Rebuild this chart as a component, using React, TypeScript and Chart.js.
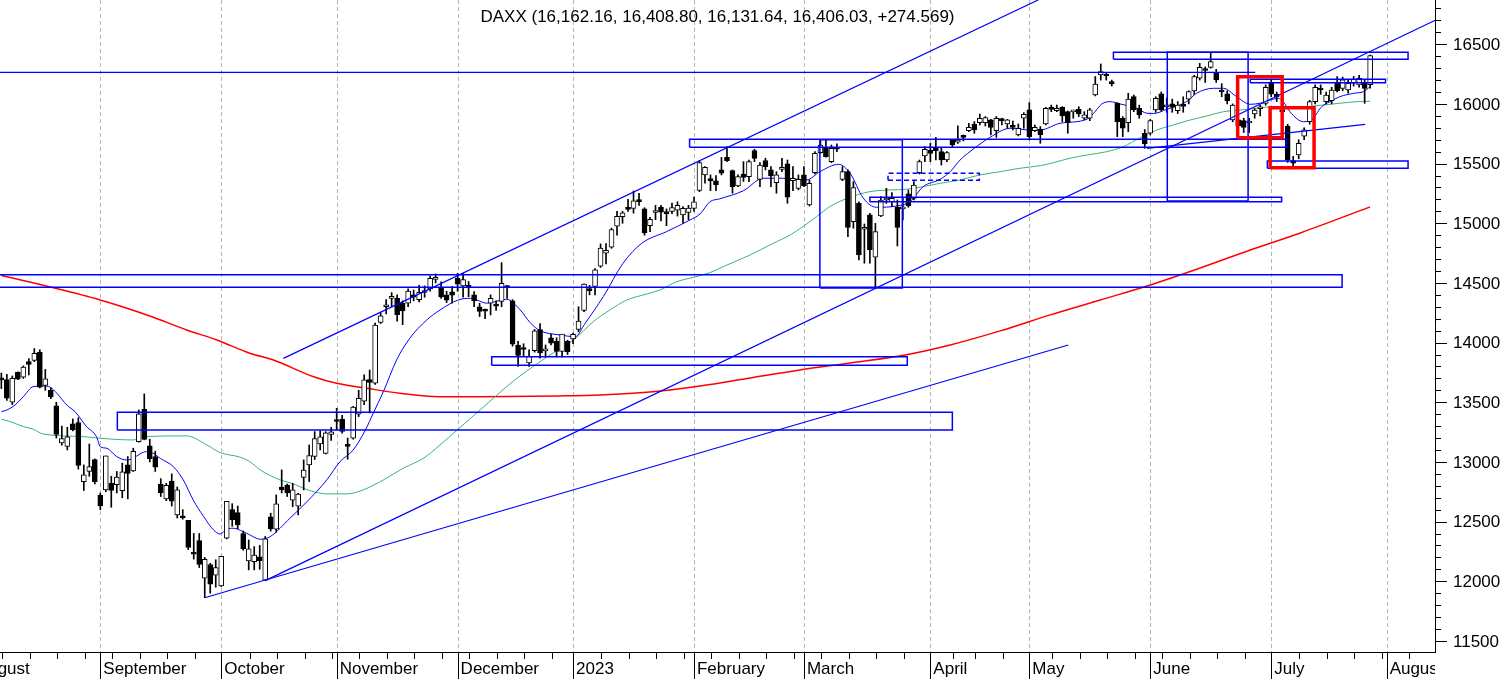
import React, { useEffect, useRef } from 'react';
import { Chart, registerables } from 'chart.js';

Chart.register(...registerables);

const TITLE = 'DAXX (16,162.16, 16,408.80, 16,131.64, 16,406.03, +274.569)';
const FONT = "'Liberation Sans', Arial, Helvetica, sans-serif";
const FIRST_DATE = '2022-08-08';
const HOLIDAYS = ['2022-12-26', '2023-04-07', '2023-04-10', '2023-05-01'];
const MONTH_NAMES = ['January', 'February', 'March', 'April', 'May', 'June', 'July', 'August', 'September', 'October', 'November', 'December'];
const Y_LABELS = [11500, 12000, 12500, 13000, 13500, 14000, 14500, 15000, 15500, 16000, 16500];
const X_MIN = -0.245;
const X_MAX = 260.8;
const Y_MIN = 11407;
const Y_MAX = 16871;

const opens = [
  13690, 13690, 13500, 13750, 13710, 13840, 13850, 13920, 13640, 13600,
  13470, 13160, 13130, 13320, 13330, 12835, 12920, 13020, 12720, 12765,
  12820, 12810, 12760, 12975, 12925, 13170, 13440, 13135, 13045, 12815,
  12690, 12840, 12556, 12545, 12510, 12240, 12340, 12025, 12140, 12050,
  11961, 12360, 12600, 12575, 12400, 12170, 12165, 12205, 12010, 12540,
  12436, 12790, 12805, 12680, 12630, 12870, 12975, 13045, 13150, 13072,
  13230, 13340, 13357, 13140, 13200, 13400, 13510, 13690, 13660, 14170,
  14300, 14370, 14370, 14330, 14330, 14400, 14360, 14420, 14450, 14530,
  14455, 14400, 14425, 14540, 14475, 14480, 14400, 14300, 14270, 14330,
  14320, 14345, 14470, 14350, 13980, 13955, 13830, 13933, 14110, 13930,
  14040, 14010, 13925, 14010, 14030, 14110, 14270, 14440, 14470, 14640,
  14750, 14800, 14975, 15055, 15131, 15125, 15190, 15120, 14980, 15090,
  15135, 15090, 15100, 15110, 15070, 15090, 15125, 15275, 15405, 15360,
  15355, 15447, 15553, 15441, 15313, 15413, 15391, 15609, 15368, 15525,
  15447, 15341, 15452, 15497, 15357, 15293, 15405, 15153, 15424, 15592,
  15628, 15516, 15625, 15368, 15433, 15014, 15167, 14950, 15070, 14715,
  15061, 15195, 15181, 15134, 15120, 15246, 15209, 15424, 15564, 15614,
  15628, 15600, 15530, 15698, 15680, 15722, 15776, 15832, 15843, 15843,
  15866, 15776, 15866, 15832, 15810, 15740, 15880, 15950, 15776, 15787,
  15832, 15958, 15944, 15972, 15935, 15933, 15955, 15880, 15880, 16075,
  16243, 16240, 16187, 16005, 15880, 15843, 16061, 15963, 15754, 15754,
  15950, 16084, 15975, 16000, 15944, 15995, 16039, 16110, 16215, 16295,
  16307, 16262, 16110, 16084, 15866, 15866, 15860, 15840, 15916, 15960,
  16005, 16178, 16081, 15950, 15815, 15525, 15572, 15730, 15852, 16019,
  16120, 16019, 16028, 16178, 16131, 16117, 16173, 16159, 16180, 16162.16,
];

const highs = [
  13745, 13735, 13720, 13755, 13805, 13865, 13950, 13940, 13775, 13620,
  13500, 13300, 13290, 13360, 13370, 12975, 13150, 13025, 12740, 13050,
  12880, 12920, 12990, 13045, 13115, 13435, 13570, 13190, 13090, 12860,
  12820, 12900, 12790, 12600, 12510, 12400, 12400, 12200, 12150, 12180,
  12210, 12670, 12650, 12630, 12420, 12346, 12290, 12300, 12375, 12570,
  12723, 12933, 12815, 12820, 12737, 13017, 13142, 13254, 13262, 13254,
  13290, 13449, 13390, 13200, 13465, 13600, 13730, 13770, 14163, 14250,
  14360, 14419, 14400, 14350, 14450, 14440, 14480, 14475, 14560, 14575,
  14510, 14430, 14470, 14580, 14580, 14512, 14427, 14330, 14280, 14400,
  14350, 14670, 14480, 14360, 14010, 13990, 13940, 14110, 14160, 13980,
  14070, 14040, 14070, 14020, 14080, 14300, 14492, 14480, 14620, 14827,
  14830, 14960, 15100, 15100, 15200, 15270, 15250, 15130, 15050, 15150,
  15150, 15120, 15170, 15180, 15140, 15150, 15220, 15525, 15475, 15405,
  15400, 15552, 15642, 15447, 15405, 15516, 15530, 15620, 15508, 15545,
  15474, 15432, 15545, 15530, 15475, 15405, 15475, 15363, 15600, 15698,
  15698, 15656, 15665, 15475, 15447, 15349, 15180, 14994, 15084, 14999,
  15223, 15293, 15257, 15195, 15209, 15279, 15349, 15530, 15642, 15670,
  15720, 15628, 15600, 15704, 15816, 15740, 15838, 15852, 15916, 15894,
  15871, 15894, 15880, 15871, 15857, 15832, 15927, 16011, 15824, 15810,
  15972, 15991, 15991, 15977, 15941, 15944, 15977, 15935, 15963, 16230,
  16335, 16262, 16200, 16011, 15894, 16089, 16075, 15990, 15785, 15870,
  16060, 16100, 16050, 16040, 16020, 16060, 16110, 16240, 16340, 16310,
  16427, 16290, 16170, 16110, 16000, 15900, 15880, 15880, 15960, 15990,
  16160, 16200, 16100, 15990, 15830, 15560, 15700, 15800, 16030, 16160,
  16160, 16100, 16140, 16230, 16225, 16200, 16230, 16240, 16200, 16408.8,
];

const lows = [
  13615, 13515, 13480, 13690, 13700, 13730, 13840, 13620, 13600, 13530,
  13200, 13140, 13100, 13260, 12940, 12760, 12880, 12815, 12600, 12750,
  12620, 12740, 12700, 12690, 12920, 13165, 13185, 13000, 12920, 12710,
  12675, 12630, 12530, 12520, 12265, 12185, 12115, 11862, 11900, 11950,
  11955, 12355, 12460, 12440, 12260, 12095, 12095, 12100, 12005, 12420,
  12410, 12740, 12710, 12625, 12556, 12765, 12835, 13020, 13100, 13067,
  13180, 13268, 13240, 13022, 13190, 13380, 13480, 13410, 13650, 14160,
  14240, 14300, 14180, 14150, 14300, 14350, 14340, 14380, 14430, 14500,
  14370, 14335, 14330, 14430, 14380, 14385, 14300, 14218, 14200, 14232,
  14270, 14300, 14370, 13970, 13800, 13890, 13800, 13920, 13870, 13880,
  13980, 13880, 13880, 13900, 13990, 14090, 14260, 14400, 14400, 14630,
  14660, 14790, 14900, 15000, 15100, 15085, 15150, 14900, 14930, 15030,
  15020, 14980, 15080, 15060, 15000, 15030, 15100, 15265, 15335, 15273,
  15273, 15405, 15516, 15252, 15307, 15350, 15349, 15516, 15307, 15447,
  15307, 15252, 15432, 15168, 15273, 15280, 15307, 15145, 15413, 15586,
  15553, 15508, 15600, 15357, 14888, 14958, 14692, 14665, 14665, 14458,
  15055, 15167, 15140, 14810, 15028, 15134, 15195, 15413, 15516, 15516,
  15530, 15488, 15516, 15642, 15670, 15690, 15768, 15754, 15824, 15815,
  15740, 15720, 15824, 15796, 15782, 15732, 15796, 15698, 15768, 15670,
  15824, 15935, 15935, 15852, 15754, 15880, 15894, 15866, 15860, 16067,
  16200, 16200, 16150, 15726, 15726, 15768, 15935, 15880, 15628, 15740,
  15930, 15940, 15930, 15930, 15920, 15930, 16000, 16080, 16200, 16180,
  16300, 16180, 16060, 16000, 15850, 15730, 15760, 15760, 15880, 15900,
  15990, 16060, 16020, 15890, 15510, 15456, 15540, 15700, 15830, 16000,
  16080, 16000, 16000, 16100, 16110, 16090, 16150, 16140, 16005, 16131.64,
];

const closes = [
  13687, 13535, 13700, 13694, 13795, 13816, 13910, 13626, 13697, 13544,
  13230, 13195, 13210, 13271, 12971, 12892, 12960, 12835, 12631, 13050,
  12761, 12872, 12916, 12904, 13088, 13402, 13189, 13028, 12956, 12741,
  12803, 12671, 12767, 12531, 12284, 12227, 12140, 12183, 11976, 12114,
  12209, 12670, 12517, 12471, 12273, 12272, 12220, 12172, 12355, 12438,
  12649, 12765, 12741, 12767, 12731, 12931, 13053, 13195, 13211, 13243,
  13253, 13339, 13256, 13130, 13460, 13533, 13688, 13666, 14146, 14224,
  14313, 14379, 14234, 14266, 14431, 14380, 14422, 14428, 14539, 14541,
  14383, 14355, 14397, 14490, 14529, 14460, 14350, 14261, 14264, 14370,
  14306, 14497, 14460, 13986, 13893, 13942, 13885, 14098, 13914, 13940,
  13995, 13925, 14071, 13924, 14069, 14181, 14490, 14436, 14610, 14792,
  14774, 14948, 15058, 15087, 15117, 15187, 15181, 14920, 15033, 15103,
  15093, 15081, 15132, 15150, 15126, 15128, 15180, 15509, 15469, 15357,
  15321, 15419, 15525, 15307, 15391, 15385, 15516, 15544, 15488, 15474,
  15396, 15405, 15469, 15218, 15377, 15368, 15313, 15335, 15586, 15656,
  15558, 15628, 15620, 15433, 14966, 15300, 14734, 14966, 14776, 14930,
  15195, 15201, 15209, 14966, 15134, 15145, 15321, 15516, 15620, 15586,
  15609, 15530, 15592, 15656, 15693, 15720, 15804, 15782, 15880, 15885,
  15804, 15880, 15860, 15866, 15804, 15796, 15913, 15726, 15804, 15740,
  15963, 15955, 15963, 15899, 15843, 15935, 15916, 15908, 15950, 16167,
  16271, 16234, 16167, 15852, 15796, 16040, 15950, 15907, 15665, 15860,
  16047, 15950, 15993, 15972, 15991, 15980, 16103, 16230, 16307, 16280,
  16354, 16201, 16100, 16028, 15991, 15815, 15804, 15846, 15949, 15963,
  16140, 16081, 16058, 15936, 15530, 15503, 15670, 15782, 16019, 16139,
  16117, 16075, 16117, 16111, 16201, 16173, 16206, 16215, 16131, 16406.03,
];

// moving averages: [trading-day index, value]
const maShort = [
  [0, 13421], [1, 13435], [2.5, 13477], [4, 13547], [5.8, 13631], [7.6, 13637], [8.9, 13626], [10.1, 13575],
  [11.9, 13477], [13.4, 13421], [15.5, 13296], [17.3, 13212], [18, 13128], [19.2, 13114], [21, 13044],
  [22.8, 13016], [24, 13030], [25.2, 13067], [26.4, 13086], [27.6, 13073], [28.9, 13030], [31.3, 12960],
  [33.1, 12849], [34.9, 12681], [36.8, 12542], [38.6, 12430], [39.8, 12396], [41, 12436], [42.2, 12444],
  [44, 12416], [45.2, 12388], [47.1, 12352], [48.9, 12374], [52.5, 12528], [55.6, 12667], [59.2, 12849],
  [61.6, 13002], [64, 13100], [66.2, 13265], [67.7, 13413], [69.5, 13589], [71.9, 13854], [74.3, 14036],
  [77.4, 14190], [79.8, 14273], [83.1, 14357], [85.3, 14371], [86.5, 14357], [88.3, 14330], [91.9, 14363],
  [94.4, 14273], [96.2, 14167], [98, 14100], [101.6, 14064], [104.4, 14050], [106.2, 14162], [109.5, 14385],
  [113.1, 14665], [116.5, 14832], [121, 14930], [125.3, 15028], [127.1, 15078], [128.9, 15180], [130.7, 15205],
  [135, 15273], [138.6, 15377], [142.3, 15377], [146.5, 15363], [148.9, 15432], [152.3, 15494], [154.4, 15419],
  [156.8, 15210], [159.2, 15134], [162.9, 15145], [165.3, 15181], [167.7, 15307], [170.8, 15369], [172.6, 15432],
  [174.4, 15530], [176.2, 15600], [179.9, 15721], [183.5, 15796], [187.1, 15782], [189, 15782], [192.6, 15838],
  [197.5, 15872], [198.7, 15922], [200.2, 16000], [201.7, 16019], [203.5, 16000], [206.5, 15964], [208.4, 15922],
  [209.6, 15920], [212, 15955], [215.6, 16019], [217.4, 16089], [220.5, 16131], [222.3, 16131], [224.7, 16061],
  [227.2, 15997], [229, 16006], [232.3, 16047], [233.2, 16019], [234.4, 15935], [236.9, 15851], [238.1, 15857],
  [240.2, 15977], [241.7, 16019], [243.5, 16061], [246, 16089], [247.8, 16103], [249, 16145],
];

const maMid = [
  [0, 13358], [1.6, 13338], [4, 13296], [5.8, 13274], [7.6, 13234], [14.9, 13212], [18, 13198], [24, 13184],
  [25.8, 13212], [33.7, 13218], [37.4, 13142], [39.8, 13078], [43.4, 13040], [45.2, 13002], [47.1, 12933],
  [50.7, 12849], [52.5, 12826], [56.2, 12759], [59.2, 12732], [62.8, 12732], [65.8, 12765], [69.5, 12849],
  [73.1, 12947], [76.8, 13031], [79.8, 13142], [82.8, 13262], [87.1, 13436], [93.4, 13687], [96.7, 13798],
  [99.8, 13896], [104.1, 14022], [107.7, 14176], [110.7, 14273], [113.8, 14357], [117.4, 14407], [119.8, 14441],
  [122.9, 14511], [125.9, 14547], [128.9, 14586], [131.3, 14636], [136.2, 14734], [140.4, 14832], [143.5, 14902],
  [148.3, 15055], [150.7, 15139], [154.4, 15218], [158, 15265], [161.7, 15279], [164.7, 15285], [167.7, 15307],
  [170.8, 15335], [174.4, 15363], [178, 15405], [181.7, 15432], [185.3, 15461], [189, 15483], [191.4, 15508],
  [194.4, 15545], [197.5, 15572], [201.1, 15600], [204.1, 15642], [207.1, 15715], [210.2, 15782], [213.2, 15824],
  [216.3, 15866], [219.3, 15899], [222.3, 15935], [225.3, 15949], [228.4, 15964], [231.4, 15977], [234.4, 15964],
  [237.5, 15977], [240.5, 15991], [243.5, 16006], [246.6, 16019], [249, 16022],
];

const maLong = [
  [0, 14562], [8.9, 14466], [18, 14357], [27, 14223], [33.7, 14106], [39.2, 14022], [45.2, 13911],
  [49.5, 13854], [56.8, 13714], [61, 13659], [66.5, 13617], [72.5, 13575], [79.8, 13547], [87.1, 13547],
  [101.6, 13553], [108.9, 13561], [118, 13586], [127.1, 13637], [136.2, 13704], [145.3, 13771], [154.4, 13829],
  [164.4, 13896], [172.6, 13980], [181.7, 14098], [190.8, 14232], [199.9, 14357], [209, 14483], [218.1, 14625],
  [227.2, 14776], [236.3, 14919], [249, 15137],
];

// drawn boxes: [fromIndex, toIndex, lowValue, highValue]
const blueBoxes = [
  [202.3, 255.9, 16374, 16433],
  [212.1, 226.8, 15187, 16433],
  [125.2, 233.8, 15637, 15704],
  [158.0, 232.9, 15181, 15218],
  [148.9, 163.9, 14458, 15700],
  [230.3, 255.9, 15461, 15522],
  [227.2, 251.8, 16178, 16207],
  [-1, 243.9, 14464, 14569],
  [89.2, 164.8, 13810, 13882],
  [21.1, 173.0, 13268, 13416],
];
const dashedBoxes = [[161.3, 177.9, 15360, 15419]];
const redBoxes = [
  [224.9, 233.0, 15717, 16228],
  [230.8, 238.8, 15466, 15969],
];

// drawn lines: [[index, value], [index, value]]
const trendLines = [
  [[-1, 16265], [228.1, 16265]],
  [[51.3, 13868], [188.6, 16871]],
  [[48, 12005], [261, 16704]],
  [[37, 11862], [194.1, 13980]],
  [[208.4, 15628], [248.1, 15829]],
];

function buildCalendar(): string[] {
  const out: string[] = [];
  const d = new Date(Date.UTC(2022, 7, 1));
  while (out.length < 290) {
    const wd = d.getUTCDay();
    const iso = d.toISOString().slice(0, 10);
    if (wd !== 0 && wd !== 6 && !HOLIDAYS.includes(iso)) out.push(iso);
    d.setUTCDate(d.getUTCDate() + 1);
  }
  return out;
}

const CAL = buildCalendar();
const OFFSET = CAL.indexOf(FIRST_DATE);
const monthTicks: { index: number; label: string }[] = [];
const weekTicks: number[] = [];
for (let k = 0; k < CAL.length; k++) {
  const idx = k - OFFSET;
  if (idx > X_MAX) break;
  const cur = new Date(CAL[k] + 'T00:00:00Z');
  const prev = k > 0 ? new Date(CAL[k - 1] + 'T00:00:00Z') : null;
  const newMonth = !prev || prev.getUTCMonth() !== cur.getUTCMonth();
  const newWeek = !prev || cur.getUTCDay() < prev.getUTCDay() || (cur.getTime() - prev.getTime()) / 86400000 > 3;
  if (newMonth) {
    const m = cur.getUTCMonth();
    monthTicks.push({ index: idx, label: m === 0 ? String(cur.getUTCFullYear()) : MONTH_NAMES[m] });
  } else if (newWeek) {
    weekTicks.push(idx);
  }
}

const toXY = (pts: number[][]) => pts.map(([x, y]) => ({ x, y }));
const boxPoints = (b: number[]) => [
  { x: b[0], y: b[2] }, { x: b[1], y: b[2] }, { x: b[1], y: b[3] }, { x: b[0], y: b[3] }, { x: b[0], y: b[2] },
];

const axesPlugin = {
  id: 'daxAxes',
  beforeDatasetsDraw(chart: any) {
    const { ctx, chartArea: a } = chart;
    const x = chart.scales.x;
    ctx.save();
    ctx.strokeStyle = '#b4b4b4';
    ctx.lineWidth = 1;
    ctx.setLineDash([4, 3]);
    for (const m of monthTicks) {
      const px = Math.round(x.getPixelForValue(m.index)) + 0.5;
      if (px < a.left || px > a.right) continue;
      ctx.beginPath();
      ctx.moveTo(px, a.top);
      ctx.lineTo(px, a.bottom);
      ctx.stroke();
    }
    ctx.restore();
  },
  afterDraw(chart: any) {
    const { ctx, chartArea: a } = chart;
    const x = chart.scales.x;
    const y = chart.scales.y;
    const H = chart.height;
    const seg = (x1: number, y1: number, x2: number, y2: number) => {
      ctx.beginPath();
      ctx.moveTo(x1, y1);
      ctx.lineTo(x2, y2);
      ctx.stroke();
    };
    ctx.save();
    ctx.setLineDash([]);
    ctx.strokeStyle = '#000';
    ctx.lineWidth = 1;
    seg(0, a.bottom + 0.5, a.right + 1, a.bottom + 0.5);
    seg(a.right + 0.5, 0, a.right + 0.5, a.bottom + 1);
    for (const m of monthTicks) {
      const px = Math.round(x.getPixelForValue(m.index)) + 0.5;
      if (px < a.left || px > a.right) continue;
      seg(px, a.bottom, px, H);
    }
    for (const w of weekTicks) {
      const px = Math.round(x.getPixelForValue(w + 0.15)) + 0.5;
      if (px < a.left || px > a.right) continue;
      seg(px, a.bottom, px, a.bottom + 7);
    }
    for (let v = Math.ceil(y.min / 100) * 100; v <= y.max; v += 100) {
      const py = Math.round(y.getPixelForValue(v)) + 0.5;
      seg(a.right, py, a.right + (v % 500 === 0 ? 12 : 6), py);
    }
    ctx.fillStyle = '#000';
    ctx.font = `17px ${FONT}`;
    ctx.textAlign = 'left';
    ctx.textBaseline = 'middle';
    for (const v of Y_LABELS) {
      ctx.fillText(String(v), a.right + 18, y.getPixelForValue(v) + 1);
    }
    ctx.save();
    ctx.beginPath();
    ctx.rect(0, a.bottom, a.right, H - a.bottom);
    ctx.clip();
    ctx.textBaseline = 'alphabetic';
    for (const m of monthTicks) {
      const px = x.getPixelForValue(m.index);
      if (px > a.right) continue;
      ctx.fillText(m.label, px + 3, a.bottom + 22);
    }
    ctx.restore();
    ctx.textAlign = 'center';
    ctx.textBaseline = 'alphabetic';
    ctx.fillText(TITLE, (a.left + a.right) / 2, 22);
    ctx.restore();
  },
};

export default function App() {
  const ref = useRef<HTMLCanvasElement>(null);
  useEffect(() => {
    document.body.style.margin = '0';
    const idx = closes.map((_, i) => i);
    const datasets: any[] = [];

    datasets.push({
      type: 'line', data: toXY(maLong), borderColor: '#ff0000', borderWidth: 1.5,
      pointRadius: 0, cubicInterpolationMode: 'monotone', order: 9,
    });
    datasets.push({
      type: 'line', data: toXY(maMid), borderColor: '#3cb371', borderWidth: 1,
      pointRadius: 0, cubicInterpolationMode: 'monotone', order: 8,
    });
    datasets.push({
      type: 'line', data: toXY(maShort), borderColor: '#0000ff', borderWidth: 1,
      pointRadius: 0, cubicInterpolationMode: 'monotone', order: 7,
    });
    datasets.push({
      type: 'bar', data: idx.map((i) => ({ x: i, y: [lows[i], highs[i]] })),
      backgroundColor: '#000', borderWidth: 0, barThickness: 1, grouped: false, order: 5,
    });
    datasets.push({
      type: 'bar', data: idx.map((i) => ({ x: i, y: [opens[i], closes[i]] })),
      backgroundColor: idx.map((i) => (closes[i] >= opens[i] ? '#ffffff' : '#000000')),
      borderColor: '#000', borderWidth: 1, borderSkipped: false, barThickness: 5,
      minBarLength: 2, grouped: false, order: 4,
    });
    for (const b of blueBoxes) {
      datasets.push({
        type: 'line', data: boxPoints(b), borderColor: '#0000ff', borderWidth: 1.5,
        pointRadius: 0, tension: 0, borderJoinStyle: 'miter', order: 2,
      });
    }
    for (const b of dashedBoxes) {
      datasets.push({
        type: 'line', data: boxPoints(b), borderColor: '#0000ff', borderWidth: 1.5, borderDash: [5, 3],
        pointRadius: 0, tension: 0, order: 2,
      });
    }
    for (const l of trendLines) {
      datasets.push({
        type: 'line', data: toXY(l), borderColor: '#0000ff', borderWidth: 1.2,
        pointRadius: 0, tension: 0, order: 2,
      });
    }
    for (const b of redBoxes) {
      datasets.push({
        type: 'line', data: boxPoints(b), borderColor: '#ff0000', borderWidth: 3.5,
        pointRadius: 0, tension: 0, borderJoinStyle: 'miter', order: 1,
      });
    }

    const chart = new Chart(ref.current as HTMLCanvasElement, {
      type: 'bar',
      data: { datasets },
      options: {
        animation: false,
        responsive: false,
        events: [],
        layout: { padding: { left: 0, top: 0, right: 71, bottom: 27 } },
        plugins: { legend: { display: false }, tooltip: { enabled: false }, title: { display: false } },
        scales: {
          x: { type: 'linear', min: X_MIN, max: X_MAX, offset: false, display: false },
          y: { type: 'linear', min: Y_MIN, max: Y_MAX, display: false },
        },
      },
      plugins: [axesPlugin],
    } as any);
    return () => chart.destroy();
  }, []);
  return <canvas ref={ref} width={1506} height={679} style={{ display: 'block', width: 1506, height: 679 }} />;
}
